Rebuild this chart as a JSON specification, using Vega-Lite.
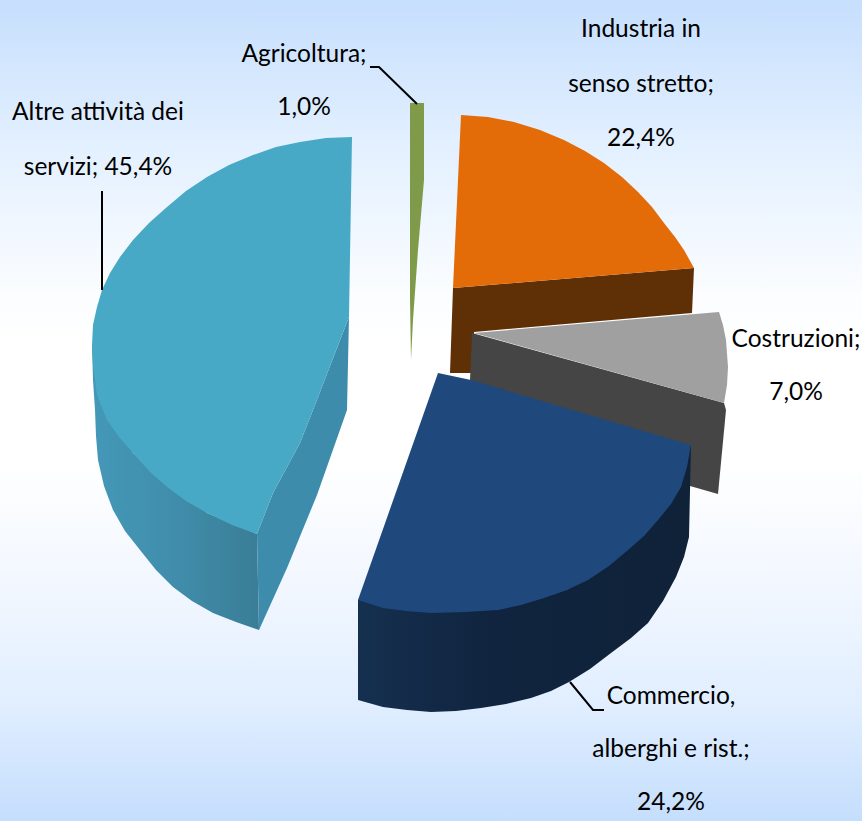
{"$schema":"https://vega.github.io/schema/vega-lite/v6.json","width":862,"height":821,"padding":0,"autosize":{"type":"none"},"background":"white","config":{"view":{"stroke":null}},
"datasets":{
"bg":[{"x":0,"x2":862,"y":0,"y2":821}],
"faces":[
{"g":"altreSide","face":"altreSide","i":0,"x":92,"y":345},{"g":"altreSide","face":"altreSide","i":1,"x":93,"y":380},{"g":"altreSide","face":"altreSide","i":2,"x":95,"y":410},{"g":"altreSide","face":"altreSide","i":3,"x":96,"y":436},{"g":"altreSide","face":"altreSide","i":4,"x":98,"y":460},{"g":"altreSide","face":"altreSide","i":5,"x":104,"y":486},{"g":"altreSide","face":"altreSide","i":6,"x":113,"y":510},{"g":"altreSide","face":"altreSide","i":7,"x":125,"y":531},{"g":"altreSide","face":"altreSide","i":8,"x":140,"y":550},{"g":"altreSide","face":"altreSide","i":9,"x":156,"y":570},{"g":"altreSide","face":"altreSide","i":10,"x":173,"y":587},{"g":"altreSide","face":"altreSide","i":11,"x":192,"y":601},{"g":"altreSide","face":"altreSide","i":12,"x":213,"y":613},{"g":"altreSide","face":"altreSide","i":13,"x":236,"y":622},{"g":"altreSide","face":"altreSide","i":14,"x":259,"y":630},{"g":"altreSide","face":"altreSide","i":15,"x":257,"y":534},{"g":"altreSide","face":"altreSide","i":16,"x":207,"y":513},{"g":"altreSide","face":"altreSide","i":17,"x":133,"y":453},
{"g":"flatA","face":"altreCut","i":0,"x":349,"y":317},{"g":"flatA","face":"altreCut","i":1,"x":313,"y":410},{"g":"flatA","face":"altreCut","i":2,"x":300,"y":443},{"g":"flatA","face":"altreCut","i":3,"x":273,"y":493},{"g":"flatA","face":"altreCut","i":4,"x":257,"y":534},{"g":"flatA","face":"altreCut","i":5,"x":259,"y":630},{"g":"flatA","face":"altreCut","i":6,"x":287,"y":568},{"g":"flatA","face":"altreCut","i":7,"x":317,"y":495},{"g":"flatA","face":"altreCut","i":8,"x":347,"y":410},
{"g":"flatA","face":"altreTop","i":0,"x":352,"y":137},{"g":"flatA","face":"altreTop","i":1,"x":326,"y":138},{"g":"flatA","face":"altreTop","i":2,"x":300,"y":142},{"g":"flatA","face":"altreTop","i":3,"x":276,"y":147},{"g":"flatA","face":"altreTop","i":4,"x":253,"y":155},{"g":"flatA","face":"altreTop","i":5,"x":229,"y":165},{"g":"flatA","face":"altreTop","i":6,"x":207,"y":177},{"g":"flatA","face":"altreTop","i":7,"x":186,"y":191},{"g":"flatA","face":"altreTop","i":8,"x":167,"y":207},{"g":"flatA","face":"altreTop","i":9,"x":149,"y":223},{"g":"flatA","face":"altreTop","i":10,"x":133,"y":240},{"g":"flatA","face":"altreTop","i":11,"x":120,"y":257},{"g":"flatA","face":"altreTop","i":12,"x":110,"y":273},{"g":"flatA","face":"altreTop","i":13,"x":102,"y":290},{"g":"flatA","face":"altreTop","i":14,"x":97,"y":307},{"g":"flatA","face":"altreTop","i":15,"x":93,"y":325},{"g":"flatA","face":"altreTop","i":16,"x":92,"y":345},{"g":"flatA","face":"altreTop","i":17,"x":93,"y":365},{"g":"flatA","face":"altreTop","i":18,"x":97,"y":395},{"g":"flatA","face":"altreTop","i":19,"x":107,"y":420},{"g":"flatA","face":"altreTop","i":20,"x":119,"y":437},{"g":"flatA","face":"altreTop","i":21,"x":133,"y":453},{"g":"flatA","face":"altreTop","i":22,"x":149,"y":471},{"g":"flatA","face":"altreTop","i":23,"x":167,"y":487},{"g":"flatA","face":"altreTop","i":24,"x":186,"y":501},{"g":"flatA","face":"altreTop","i":25,"x":207,"y":513},{"g":"flatA","face":"altreTop","i":26,"x":232,"y":525},{"g":"flatA","face":"altreTop","i":27,"x":257,"y":534},{"g":"flatA","face":"altreTop","i":28,"x":273,"y":493},{"g":"flatA","face":"altreTop","i":29,"x":300,"y":443},{"g":"flatA","face":"altreTop","i":30,"x":313,"y":410},{"g":"flatA","face":"altreTop","i":31,"x":349,"y":317},
{"g":"flatA","face":"agri","i":0,"x":410,"y":103},{"g":"flatA","face":"agri","i":1,"x":424,"y":103},{"g":"flatA","face":"agri","i":2,"x":424,"y":180},{"g":"flatA","face":"agri","i":3,"x":418,"y":250},{"g":"flatA","face":"agri","i":4,"x":413,"y":320},{"g":"flatA","face":"agri","i":5,"x":411,"y":360},{"g":"flatA","face":"agri","i":6,"x":410,"y":300},
{"g":"flatA","face":"indSide","i":0,"x":694,"y":268},{"g":"flatA","face":"indSide","i":1,"x":692,"y":313},{"g":"flatA","face":"indSide","i":2,"x":474,"y":332},{"g":"flatA","face":"indSide","i":3,"x":472,"y":373},{"g":"flatA","face":"indSide","i":4,"x":450,"y":373},{"g":"flatA","face":"indSide","i":5,"x":453,"y":288},
{"g":"flatA","face":"indTop","i":0,"x":461,"y":115},{"g":"flatA","face":"indTop","i":1,"x":488,"y":117},{"g":"flatA","face":"indTop","i":2,"x":514,"y":122},{"g":"flatA","face":"indTop","i":3,"x":540,"y":130},{"g":"flatA","face":"indTop","i":4,"x":564,"y":140},{"g":"flatA","face":"indTop","i":5,"x":585,"y":151},{"g":"flatA","face":"indTop","i":6,"x":604,"y":163},{"g":"flatA","face":"indTop","i":7,"x":622,"y":177},{"g":"flatA","face":"indTop","i":8,"x":638,"y":192},{"g":"flatA","face":"indTop","i":9,"x":652,"y":207},{"g":"flatA","face":"indTop","i":10,"x":664,"y":223},{"g":"flatA","face":"indTop","i":11,"x":675,"y":237},{"g":"flatA","face":"indTop","i":12,"x":684,"y":250},{"g":"flatA","face":"indTop","i":13,"x":694,"y":268},{"g":"flatA","face":"indTop","i":14,"x":453,"y":288},
{"g":"flatA","face":"costSide","i":0,"x":472,"y":333},{"g":"flatA","face":"costSide","i":1,"x":724,"y":403},{"g":"flatA","face":"costSide","i":2,"x":726,"y":410},{"g":"flatA","face":"costSide","i":3,"x":718,"y":494},{"g":"flatA","face":"costSide","i":4,"x":690,"y":486},{"g":"flatA","face":"costSide","i":5,"x":470,"y":380},
{"g":"flatA","face":"costTop","i":0,"x":474,"y":333},{"g":"flatA","face":"costTop","i":1,"x":719,"y":312},{"g":"flatA","face":"costTop","i":2,"x":723,"y":325},{"g":"flatA","face":"costTop","i":3,"x":726,"y":340},{"g":"flatA","face":"costTop","i":4,"x":728,"y":367},{"g":"flatA","face":"costTop","i":5,"x":727,"y":385},{"g":"flatA","face":"costTop","i":6,"x":724,"y":403},
{"g":"commSide","face":"commSide","i":0,"x":691,"y":445},{"g":"commSide","face":"commSide","i":1,"x":689,"y":537},{"g":"commSide","face":"commSide","i":2,"x":684,"y":557},{"g":"commSide","face":"commSide","i":3,"x":676,"y":577},{"g":"commSide","face":"commSide","i":4,"x":663,"y":601},{"g":"commSide","face":"commSide","i":5,"x":648,"y":623},{"g":"commSide","face":"commSide","i":6,"x":631,"y":638},{"g":"commSide","face":"commSide","i":7,"x":611,"y":653},{"g":"commSide","face":"commSide","i":8,"x":590,"y":669},{"g":"commSide","face":"commSide","i":9,"x":569,"y":682},{"g":"commSide","face":"commSide","i":10,"x":551,"y":691},{"g":"commSide","face":"commSide","i":11,"x":531,"y":698},{"g":"commSide","face":"commSide","i":12,"x":506,"y":704},{"g":"commSide","face":"commSide","i":13,"x":481,"y":708},{"g":"commSide","face":"commSide","i":14,"x":456,"y":711},{"g":"commSide","face":"commSide","i":15,"x":431,"y":712},{"g":"commSide","face":"commSide","i":16,"x":407,"y":710},{"g":"commSide","face":"commSide","i":17,"x":383,"y":707},{"g":"commSide","face":"commSide","i":18,"x":358,"y":700},{"g":"commSide","face":"commSide","i":19,"x":358,"y":600},
{"g":"flatB","face":"commTop","i":0,"x":438,"y":373},{"g":"flatB","face":"commTop","i":1,"x":471,"y":380},{"g":"flatB","face":"commTop","i":2,"x":691,"y":445},{"g":"flatB","face":"commTop","i":3,"x":687,"y":467},{"g":"flatB","face":"commTop","i":4,"x":681,"y":487},{"g":"flatB","face":"commTop","i":5,"x":671,"y":504},{"g":"flatB","face":"commTop","i":6,"x":658,"y":520},{"g":"flatB","face":"commTop","i":7,"x":644,"y":536},{"g":"flatB","face":"commTop","i":8,"x":628,"y":550},{"g":"flatB","face":"commTop","i":9,"x":609,"y":566},{"g":"flatB","face":"commTop","i":10,"x":588,"y":580},{"g":"flatB","face":"commTop","i":11,"x":567,"y":590},{"g":"flatB","face":"commTop","i":12,"x":544,"y":598},{"g":"flatB","face":"commTop","i":13,"x":521,"y":605},{"g":"flatB","face":"commTop","i":14,"x":498,"y":610},{"g":"flatB","face":"commTop","i":15,"x":465,"y":612},{"g":"flatB","face":"commTop","i":16,"x":431,"y":613},{"g":"flatB","face":"commTop","i":17,"x":406,"y":611},{"g":"flatB","face":"commTop","i":18,"x":383,"y":608},{"g":"flatB","face":"commTop","i":19,"x":358,"y":600}
],
"leaders":[
{"k":"agri","i":0,"x":370,"y":67},{"k":"agri","i":1,"x":379,"y":67},{"k":"agri","i":2,"x":417,"y":104},
{"k":"altre","i":0,"x":102,"y":191},{"k":"altre","i":1,"x":102,"y":290},
{"k":"comm","i":0,"x":570,"y":682},{"k":"comm","i":1,"x":593,"y":710},{"k":"comm","i":2,"x":604,"y":710}
],
"labels":[
{"t":"Agricoltura;","x":304,"y":55,"sector":"Agricoltura","share":1.0},{"t":"1,0%","x":304,"y":108,"sector":"Agricoltura","share":1.0},
{"t":"Altre attività dei","x":98,"y":113,"sector":"Altre attività dei servizi","share":45.4},{"t":"servizi; 45,4%","x":98,"y":168,"sector":"Altre attività dei servizi","share":45.4},
{"t":"Industria in","x":641,"y":30,"sector":"Industria in senso stretto","share":22.4},{"t":"senso stretto;","x":641,"y":85,"sector":"Industria in senso stretto","share":22.4},{"t":"22,4%","x":641,"y":139,"sector":"Industria in senso stretto","share":22.4},
{"t":"Costruzioni;","x":796,"y":340,"sector":"Costruzioni","share":7.0},{"t":"7,0%","x":796,"y":393,"sector":"Costruzioni","share":7.0},
{"t":"Commercio,","x":671,"y":697,"sector":"Commercio, alberghi e rist.","share":24.2},{"t":"alberghi e rist.;","x":671,"y":750,"sector":"Commercio, alberghi e rist.","share":24.2},{"t":"24,2%","x":671,"y":803,"sector":"Commercio, alberghi e rist.","share":24.2}
]},
"encoding":{"x":{"field":"x","type":"quantitative","scale":{"domain":[0,862],"nice":false},"axis":null},"y":{"field":"y","type":"quantitative","scale":{"domain":[821,0],"nice":false},"axis":null}},
"layer":[
{"data":{"name":"bg"},"mark":{"type":"rect","fill":{"gradient":"linear","x1":0,"y1":0,"x2":0,"y2":1,"stops":[{"offset":0,"color":"#c6dffd"},{"offset":0.18,"color":"#e3f0ff"},{"offset":0.36,"color":"#fbfdff"},{"offset":0.42,"color":"#ffffff"},{"offset":0.56,"color":"#ffffff"},{"offset":0.73,"color":"#f0f6ff"},{"offset":0.86,"color":"#e0eeff"},{"offset":1,"color":"#c4defd"}]}},
"encoding":{"x2":{"field":"x2"},"y2":{"field":"y2"}}},
{"data":{"name":"faces"},"transform":[{"filter":"datum.g==='altreSide'"}],"mark":{"type":"line","strokeWidth":0,"fill":{"gradient":"linear","x1":0,"y1":0,"x2":1,"y2":0,"stops":[{"offset":0,"color":"#4498b8"},{"offset":0.5,"color":"#408dab"},{"offset":1,"color":"#3a7d96"}]}},
"encoding":{"order":{"field":"i","type":"quantitative"}}},
{"data":{"name":"faces"},"transform":[{"filter":"datum.g==='flatA'"}],"mark":{"type":"line","strokeWidth":0},
"encoding":{"order":{"field":"i","type":"quantitative"},"fill":{"field":"face","type":"nominal","legend":null,"scale":{"domain":["altreCut","altreTop","agri","indSide","indTop","costSide","costTop"],"range":["#3e8cab","#47a9c5","#7f9a48","#5f2f05","#e36c09","#454545","#a0a0a0"]}}}},
{"data":{"name":"faces"},"transform":[{"filter":"datum.g==='commSide'"}],"mark":{"type":"line","strokeWidth":0,"fill":{"gradient":"linear","x1":0,"y1":0,"x2":1,"y2":0,"stops":[{"offset":0,"color":"#15304f"},{"offset":0.4,"color":"#10243f"},{"offset":1,"color":"#0f2238"}]}},
"encoding":{"order":{"field":"i","type":"quantitative"}}},
{"data":{"name":"faces"},"transform":[{"filter":"datum.g==='flatB'"}],"mark":{"type":"line","strokeWidth":0,"fill":"#1f497d"},
"encoding":{"order":{"field":"i","type":"quantitative"}}},
{"data":{"name":"leaders"},"mark":{"type":"line","color":"black","strokeWidth":2},"encoding":{"order":{"field":"i","type":"quantitative"},"detail":{"field":"k"}}},
{"data":{"name":"labels"},"mark":{"type":"text","font":"Lato","fontSize":24.5,"color":"black","align":"center","baseline":"middle"},"encoding":{"text":{"field":"t"}}}
]}
